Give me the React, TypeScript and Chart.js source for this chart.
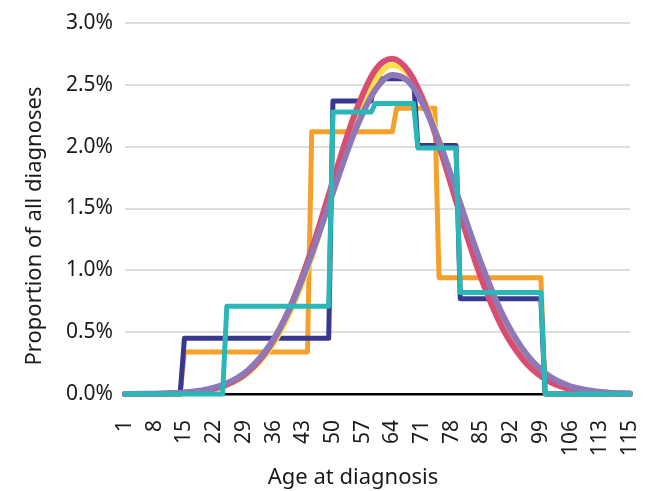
import React, { useEffect, useRef } from "react";
import { Chart, registerables } from "chart.js";

Chart.register(...registerables);

// Axis titles
const xTitle = "Age at diagnosis";
const yTitle = "Proportion of all diagnoses";

// X axis tick positions and their labels
const xTickValues = [1, 8, 15, 22, 29, 36, 43, 50, 57, 64, 71, 78, 85, 92, 99, 106, 113, 120];
const xTickLabels = ["1", "8", "15", "22", "29", "36", "43", "50", "57", "64", "71", "78", "85", "92", "99", "106", "113", "115"];

// Step series (breakpoints: age, proportion %)
const navyAges = [1, 14, 15, 49, 50, 59, 60, 69, 70, 79, 80, 99, 100, 120];
const navyValues = [0, 0, 0.45, 0.45, 2.37, 2.37, 2.55, 2.55, 2.01, 2.01, 0.77, 0.77, 0, 0];

const orangeAges = [1, 14, 15, 44, 45, 64, 65, 74, 75, 99, 100, 120];
const orangeValues = [0, 0, 0.34, 0.34, 2.12, 2.12, 2.31, 2.31, 0.94, 0.94, 0, 0];

const tealAges = [1, 24, 25, 49, 50, 59, 60, 69, 70, 79, 80, 99, 100, 120];
const tealValues = [0, 0, 0.71, 0.71, 2.28, 2.28, 2.35, 2.35, 1.99, 1.99, 0.82, 0.82, 0, 0];

// Smooth curves
const curveAges = [1, 5, 10, 15, 20, 25, 30, 35, 40, 45, 50, 55, 60, 64, 68, 72, 76, 80, 85, 90, 95, 100, 105, 110, 115, 120];
const pinkValues = [0.0002, 0.0007, 0.003, 0.009, 0.028, 0.076, 0.18, 0.38, 0.71, 1.17, 1.72, 2.25, 2.62, 2.71, 2.6, 2.31, 1.9, 1.45, 0.93, 0.53, 0.27, 0.12, 0.048, 0.017, 0.005, 0.0015];
const yellowValues = [0.0002, 0.0008, 0.003, 0.009, 0.028, 0.073, 0.173, 0.36, 0.67, 1.11, 1.65, 2.17, 2.54, 2.66, 2.58, 2.33, 1.95, 1.52, 1.0, 0.58, 0.3, 0.14, 0.059, 0.022, 0.007, 0.002];
const purpleValues = [0.0004, 0.0012, 0.004, 0.013, 0.035, 0.087, 0.193, 0.39, 0.7, 1.13, 1.63, 2.11, 2.46, 2.58, 2.52, 2.29, 1.95, 1.54, 1.05, 0.64, 0.35, 0.17, 0.075, 0.03, 0.011, 0.0035];

const FAMILY = "'Noto Sans', sans-serif";
const FONT = { family: FAMILY, size: 21 };
const TEXT = "#1a1a1a";

const pts = (xs: number[], ys: number[]) => xs.map((x, i) => ({ x, y: ys[i] }));

const titlesPlugin = {
  id: "axisTitles",
  afterDraw(chart: any) {
    const ctx = chart.ctx as CanvasRenderingContext2D;
    ctx.save();
    ctx.fillStyle = TEXT;
    ctx.font = `22px ${FAMILY}`;
    ctx.textAlign = "center";
    ctx.textBaseline = "middle";
    ctx.fillText(xTitle, 353, 478);
    ctx.translate(35, 226);
    ctx.rotate(-Math.PI / 2);
    ctx.fillText(yTitle, 0, 0);
    ctx.restore();
  },
};

export default function App() {
  const ref = useRef<HTMLCanvasElement | null>(null);

  useEffect(() => {
    document.body.style.margin = "0";
    if (!ref.current) return;
    const stepBase = { borderWidth: 5, tension: 0, pointRadius: 0, borderCapStyle: "round", borderJoinStyle: "round", clip: false, fill: false };
    const curveBase = { borderWidth: 6, cubicInterpolationMode: "monotone", pointRadius: 0, borderCapStyle: "round", borderJoinStyle: "round", clip: false, fill: false };
    const chart = new Chart(ref.current, {
      type: "line",
      data: {
        datasets: [
          { ...stepBase, label: "Teal", data: pts(tealAges, tealValues), borderColor: "#2bb6b7", order: 0 },
          { ...curveBase, label: "Purple", data: pts(curveAges, purpleValues), borderColor: "#8f78b6", order: 1 },
          { ...curveBase, label: "Pink", data: pts(curveAges, pinkValues), borderColor: "#d94d72", order: 2 },
          { ...curveBase, label: "Yellow", data: pts(curveAges, yellowValues), borderColor: "#fde14c", order: 3 },
          { ...stepBase, label: "Navy", data: pts(navyAges, navyValues), borderColor: "#383891", order: 4 },
          { ...stepBase, label: "Orange", data: pts(orangeAges, orangeValues), borderColor: "#f5a02a", order: 5 },
        ] as any,
      },
      options: {
        responsive: false,
        animation: false,
        layout: { padding: { top: 23, right: 23, left: 0, bottom: 0 } },
        plugins: { legend: { display: false }, tooltip: { enabled: false } },
        scales: {
          x: {
            type: "linear",
            min: 1,
            max: 120,
            afterBuildTicks: (s: any) => {
              s.ticks = xTickValues.map((v) => ({ value: v }));
            },
            afterFit: (s: any) => {
              s.height = 97;
              s.paddingLeft = 0;
              s.paddingRight = 0;
            },
            ticks: {
              autoSkip: false,
              minRotation: 90,
              maxRotation: 90,
              padding: 26,
              font: FONT,
              color: TEXT,
              callback: (_v: any, i: number) => xTickLabels[i],
            },
            grid: { display: false, drawTicks: false },
            border: { display: true, color: "#000000", width: 2.5 },
            title: { display: false },
          },
          y: {
            min: 0,
            max: 3,
            afterFit: (s: any) => {
              s.width = 125;
              s.paddingTop = 0;
              s.paddingBottom = 0;
            },
            ticks: {
              stepSize: 0.5,
              padding: 12,
              font: FONT,
              color: TEXT,
              callback: (v: any) => Number(v).toFixed(1) + "%",
            },
            grid: { color: "#dedede", lineWidth: 2, drawTicks: false },
            border: { display: false },
            title: { display: false },
          },
        },
      } as any,
      plugins: [titlesPlugin],
    });
    return () => chart.destroy();
  }, []);

  return (
    <div style={{ width: 653, height: 491 }}>
      <canvas ref={ref} width={653} height={491} style={{ display: "block" }} />
    </div>
  );
}
